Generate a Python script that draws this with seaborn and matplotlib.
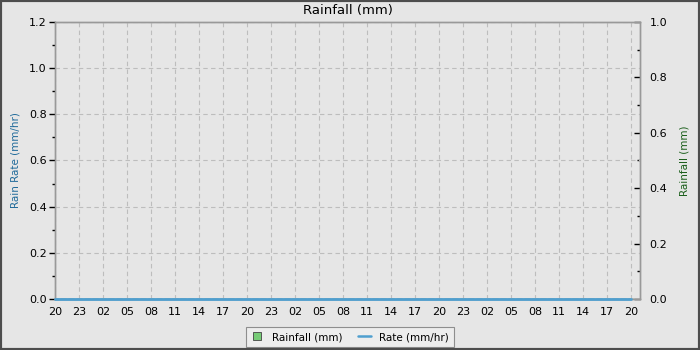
import matplotlib
matplotlib.use("Agg")
import matplotlib.pyplot as plt
import seaborn as sns
import pandas as pd
from matplotlib.lines import Line2D
from matplotlib.ticker import MultipleLocator, FixedLocator, FixedFormatter

sns.set_style("white")
plt.rcParams['font.family'] = ['DejaVu Sans']

# ---- data ----
hours = list(range(0, 73))                     # hours since start (20:00)
rate_mm_hr = [0.0] * 73                         # rain rate, all zero in the reference
rainfall_mm = [0.0] * 73                        # rainfall totals, all zero
tick_hours = list(range(0, 73, 3))
tick_labels = ["20", "23", "02", "05", "08", "11", "14", "17",
               "20", "23", "02", "05", "08", "11", "14", "17",
               "20", "23", "02", "05", "08", "11", "14", "17", "20"]

df = pd.DataFrame({"hour": hours, "rate": rate_mm_hr, "rain": rainfall_mm})

BG = "#e6e6e6"
RATE_C = "#4f9fcf"
RAIN_C = "#77cc77"

fig = plt.figure(figsize=(7, 3.5), dpi=100, facecolor=BG)
fig.patches.append(plt.Rectangle((0, 0), 1, 1, transform=fig.transFigure,
                                 fill=False, edgecolor="#4d4d4d", linewidth=3, zorder=10))
ax = fig.add_axes([55/700, 1-299/350, (640-55)/700, (299-22)/350])
ax.set_facecolor(BG)
ax2 = ax.twinx()
ax.set_zorder(ax2.get_zorder() + 1)
ax.patch.set_visible(False)
ax2.patch.set_visible(True)
ax2.patch.set_facecolor(BG)

# rainfall bars (zero height) on right axis
ax2.bar(df["hour"], df["rain"], width=0.8, color=RAIN_C, edgecolor="#336633")
# rate line on left axis
sns.lineplot(data=df, x="hour", y="rate", ax=ax, color=RATE_C, linewidth=2,
             legend=False, zorder=5, clip_on=False)

ax.set_xlim(0, 73.1)
ax.set_ylim(0, 1.2)
ax2.set_ylim(0, 1.0)

ax.xaxis.set_major_locator(FixedLocator(tick_hours))
ax.xaxis.set_major_formatter(FixedFormatter(tick_labels))
ax.xaxis.set_minor_locator(MultipleLocator(1))
ax.yaxis.set_major_locator(MultipleLocator(0.2))
ax.yaxis.set_minor_locator(MultipleLocator(0.1))
ax2.yaxis.set_major_locator(MultipleLocator(0.2))
ax2.yaxis.set_minor_locator(MultipleLocator(0.1))

ax.tick_params(axis="both", which="major", labelsize=8, length=4, width=1,
               color="black", labelcolor="black", pad=2)
ax.tick_params(axis="both", which="minor", length=2, width=1, color="black")
ax2.tick_params(axis="y", which="major", direction="in", labelsize=8, length=4, width=1,
                color="black", labelcolor="black", pad=7)
ax2.tick_params(axis="y", which="minor", direction="in", length=2, width=1, color="black")

ax.grid(True, which="major", color="#bdbdbd", linestyle=(0, (4, 3)), linewidth=0.8)
ax.set_axisbelow(True)
for a in (ax, ax2):
    for s in a.spines.values():
        s.set_color("#999999")
        s.set_linewidth(1)

ax.set_xlabel("")
ax.set_ylabel("Rain Rate (mm/hr)", fontsize=7.5, color="#1f6a9a", labelpad=6)
ax2.set_ylabel("Rainfall (mm)", fontsize=7.5, color="#1a5e1a", labelpad=9)
ax.set_title("Rainfall (mm)", fontsize=9.5, pad=6, color="black")

handles = [
    Line2D([], [], marker="s", linestyle="None", markerfacecolor=RAIN_C,
           markeredgecolor="#444444", markersize=6, markeredgewidth=0.6),
    Line2D([], [], color=RATE_C, linewidth=1.8),
]
leg = fig.legend(handles, ["Rainfall (mm)", "Rate (mm/hr)"], loc="center",
                 bbox_to_anchor=(350/700, 1-337/350), ncol=2, fontsize=7.5,
                 frameon=True, fancybox=False, edgecolor="#777777",
                 handlelength=1.2, columnspacing=1.5, borderpad=0.5)
leg.get_frame().set_facecolor("#f0f0f0")
leg.get_frame().set_linewidth(0.8)
for t in leg.get_texts():
    t.set_color("black")

fig.savefig("out.png", dpi=100, facecolor=BG)
